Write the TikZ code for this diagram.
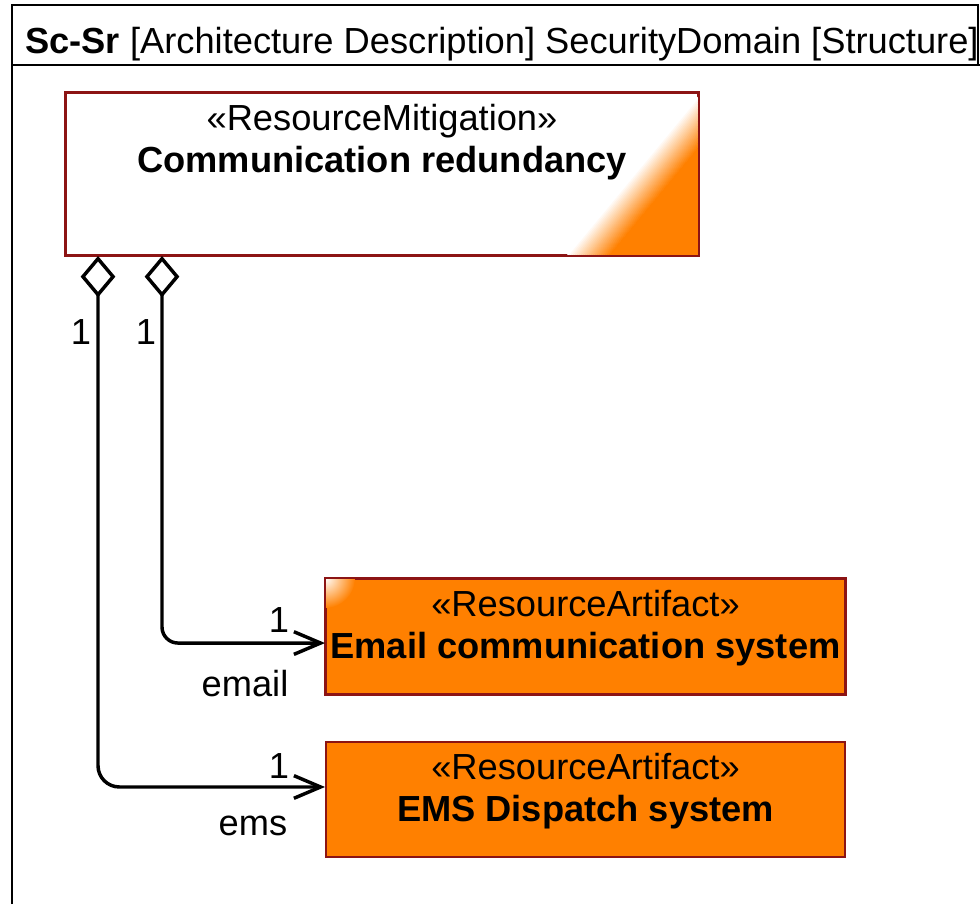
\documentclass[tikz,border=0pt]{standalone}
\usepackage{fontspec}
\setmainfont{Liberation Sans}
\usetikzlibrary{arrows.meta}
\definecolor{boxline}{RGB}{140,20,20}
\definecolor{resorange}{RGB}{255,128,0}

\tikzset{
  mitbox/.style={draw=boxline, line width=1.5pt, fill=white, minimum width=474pt, minimum height=121.5pt, inner sep=0pt},
  artbox/.style={draw=boxline, line width=1.5pt, fill=resorange, minimum width=389.25pt, minimum height=86.25pt, inner sep=0pt},
  boxtext/.style={anchor=north, inner sep=0pt, align=center},
  lbl/.style={inner sep=0pt},
  aggr/.style={line width=2.6pt, {Diamond[open,length=31pt,width=26pt]}-{Straight Barb[length=20pt,width=17pt]}}
}

\begin{document}
\begin{tikzpicture}[x=0.75pt,y=-0.75pt,font=\fontsize{27.2}{32}\selectfont]
\useasboundingbox (0,0) rectangle (980,904);
% frame and heading
\draw[line width=1.5pt] (12,904) -- (12,5) -- (978,5) -- (978,65);
\draw[line width=1.5pt] (12,65) -- (980,65);
\node[lbl, anchor=base west] (title) at (25,53) {\textbf{Sc-Sr} [Architecture Description] SecurityDomain [Structure]};

% the mitigation block
\node[mitbox] (mitig) at (382,174) {};
\begin{scope}
  \clip (mitig.south west) rectangle (mitig.north east);
  \fill[resorange] (610,255) -- (759,75) -- (1000,75) -- (1000,255) -- cycle;
  \foreach \k in {0,...,21}
  {
    \pgfmathsetmacro\pct{100-100*\k/21}
    \fill[white!\pct!resorange] (567+2*\k,255) -- (569.5+2*\k,255) -- (718.3+2*\k,75) -- (715.8+2*\k,75) -- cycle;
  }
\end{scope}
\draw[boxline, line width=1.5pt] (mitig.south west) rectangle (mitig.north east);
\node[boxtext] (mitigtext) at ([yshift=-6pt]mitig.north) {\strut«ResourceMitigation»\\\textbf{Communication redundancy}};

% the artifact blocks
\node[artbox] (email) at (585.5,636.5) {};
\begin{scope}
  \clip (email.south west) rectangle (email.north east);
  \shade[inner color=white, outer color=resorange] (email.north west) circle (30);
\end{scope}
\draw[boxline, line width=1.5pt] (email.south west) rectangle (email.north east);
\node[boxtext] (emailtext) at ([yshift=-6pt]email.north) {\strut«ResourceArtifact»\\\textbf{Email communication system}};

\node[artbox] (ems) at (585.5,799.5) {};
\node[boxtext] (emstext) at ([yshift=-6pt]ems.north) {\strut«ResourceArtifact»\\\textbf{EMS Dispatch system}};

% aggregations
\draw[aggr, rounded corners=16pt] ([xshift=24.75pt]mitig.south west) |- ([yshift=9.4pt]ems.west);
\draw[aggr, rounded corners=12pt] ([xshift=72.75pt]mitig.south west) |- ([yshift=-4.9pt]email.west);

% multiplicities and roles
\node[lbl] (m1) at (81,332) {1};
\node[lbl] (m2) at (146,332) {1};
\node[lbl] (e1) at (279,620) {1};
\node[lbl] (erole) at (245,684) {email};
\node[lbl] (s1) at (279,766) {1};
\node[lbl] (srole) at (253,826) {ems};
\end{tikzpicture}
\end{document}
